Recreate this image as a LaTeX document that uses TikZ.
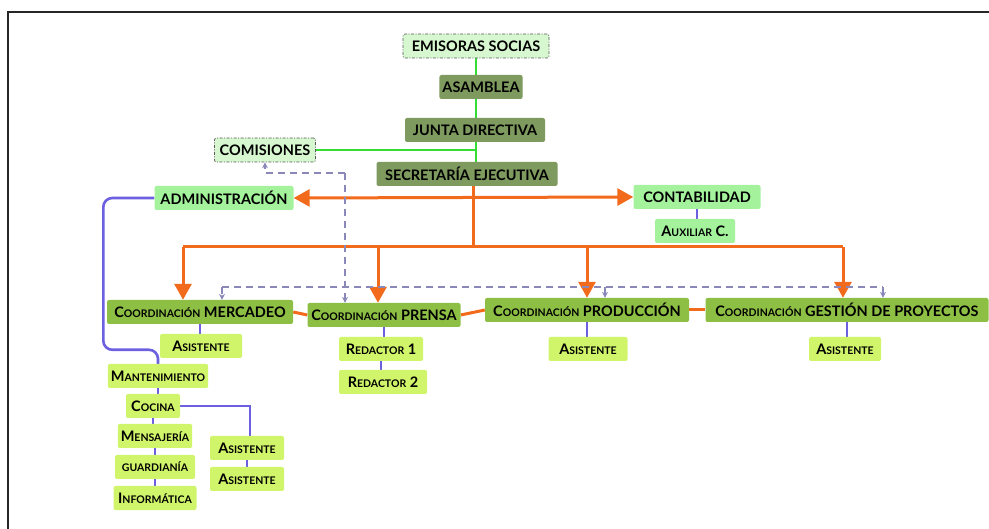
\documentclass[tikz,border=0pt]{standalone}
\usepackage{fontspec}
\setmainfont{Lato}
\usetikzlibrary{arrows.meta, positioning, backgrounds}
\definecolor{sociafill}{HTML}{D6F7CF}
\definecolor{boardfill}{HTML}{7E9A5F}
\definecolor{areafill}{HTML}{A4F39C}
\definecolor{coordfill}{HTML}{8DBF45}
\definecolor{stafffill}{HTML}{D0F56A}
\definecolor{linegreen}{HTML}{33DD33}
\definecolor{lineorange}{HTML}{F26A1B}
\definecolor{lineblue}{HTML}{6C5FE0}
\definecolor{linedash}{HTML}{8A88B8}

% small caps made by hand: first letter, then the rest smaller
\newcommand\smcap[2]{#1{\fontsize{10.5}{12}\selectfont #2}}

\begin{document}
\begin{tikzpicture}[x=1pt, y=-1pt,
    box/.style={rectangle, rounded corners=2pt, fill=#1, inner xsep=3pt,
                inner ysep=0pt, minimum height=24pt, text=black,
                font=\fontsize{14.5}{16}\selectfont\bfseries},
    socia/.style={box=sociafill, draw=black!65, line width=0.7pt,
                  dash pattern=on 3pt off 1.5pt on 1pt off 1.5pt},
    orangeline/.style={draw=lineorange, line width=3pt},
    orangearrow/.style={orangeline, -{Triangle[length=16pt, width=17pt]}},
    blueline/.style={draw=lineblue, line width=2.6pt},
    dashline/.style={draw=linedash, line width=1.2pt, dash pattern=on 7pt off 5pt},
]
\useasboundingbox (0,0) rectangle (989,529);
\draw[line width=2pt, black!85] (8,529) -- (8,12) -- (989,12);

% top of the tree
\node[socia, minimum width=146pt]        (emisoras)   at (476,46)  {EMISORAS SOCIAS};
\node[box=boardfill, minimum width=83pt] (asamblea)   at (481,87)  {ASAMBLEA};
\node[box=boardfill, minimum width=140pt](junta)      at (475,130) {JUNTA DIRECTIVA};
\node[socia, minimum width=101pt]        (comisiones) at (265,150) {COMISIONES};
\node[box=boardfill, minimum width=181pt](secretaria) at (467,174) {SECRETARÍA EJECUTIVA};

\node[box=areafill, minimum width=139pt] (admin)      at (224,198) {ADMINISTRACIÓN};
\node[box=areafill, minimum width=127pt] (conta)      at (697,197) {CONTABILIDAD};
\node[box=areafill, minimum width=80pt]  (auxiliar)   at (695,231) {\smcap{A}{UXILIAR} C.};

% coordinations
\node[box=coordfill, minimum width=186pt](mercadeo)   at (200,312) {\smcap{C}{OORDINACIÓN} MERCADEO};
\node[box=coordfill, minimum width=153pt](prensa)     at (384,315) {\smcap{C}{OORDINACIÓN} PRENSA};
\node[box=coordfill, minimum width=204pt](produccion) at (587,310) {\smcap{C}{OORDINACIÓN} PRODUCCIÓN};
\node[box=coordfill, minimum width=283pt](gestion)    at (847,310) {\smcap{C}{OORDINACIÓN} GESTIÓN DE PROYECTOS};

\node[box=stafffill, minimum width=82pt] (asismerc)   at (201,346) {\smcap{A}{SISTENTE}};
\node[box=stafffill, minimum width=84pt] (redactor1)  at (381,349) {\smcap{R}{EDACTOR} 1};
\node[box=stafffill, minimum width=88pt] (redactor2)  at (383,382) {\smcap{R}{EDACTOR} 2};
\node[box=stafffill, minimum width=79pt] (asisprod)   at (588,349) {\smcap{A}{SISTENTE}};
\node[box=stafffill, minimum width=72pt] (asisgest)   at (845,349) {\smcap{A}{SISTENTE}};

% services under administration
\node[box=stafffill, minimum width=100pt](manten)     at (158,376) {\smcap{M}{ANTENIMIENTO}};
\node[box=stafffill, minimum width=54pt] (cocina)     at (153,406) {\smcap{C}{OCINA}};
\node[box=stafffill, minimum width=74pt] (mensajeria) at (155,436) {\smcap{M}{ENSAJERÍA}};
\node[box=stafffill, minimum width=80pt] (guardiania) at (155,467) {\smcap{}{GUARDIANÍA}};
\node[box=stafffill, minimum width=83pt] (informatica)at (155,498) {\smcap{I}{NFORMÁTICA}};
\node[box=stafffill, minimum width=74pt] (asiscoc1)   at (247,448) {\smcap{A}{SISTENTE}};
\node[box=stafffill, minimum width=74pt] (asiscoc2)   at (247,479) {\smcap{A}{SISTENTE}};

\coordinate (hub)     at (473,247);
\coordinate (dashtop) at (345,173);
\coordinate (dashbus) at (345,287);

\begin{scope}[on background layer]
% green line of the governing bodies
\draw[draw=linegreen, line width=2.5pt] (emisoras.south) -- (emisoras.south |- secretaria.north);
\draw[draw=linegreen, line width=2.5pt] (comisiones.east) -- (comisiones.east -| emisoras.south);

% orange lines
\draw[orangeline] (hub |- secretaria.south) -- (hub);
\draw[orangeline, {Triangle[length=16pt, width=17pt]}-{Triangle[length=16pt, width=17pt]}]
    (admin.east) -- (conta.west);
\draw[orangeline] ([xshift=-17pt]mercadeo.north |- hub) -- ([xshift=-4pt]gestion.north |- hub);
\draw[orangearrow] ([xshift=-17pt]mercadeo.north |- hub) -- ([xshift=-17pt]mercadeo.north);
\draw[orangearrow] ([xshift=-6pt]prensa.north |- hub) -- ([xshift=-6pt]prensa.north);
\draw[orangearrow] (produccion.north |- hub) -- (produccion.north);
\draw[orangearrow] ([xshift=-4pt]gestion.north |- hub) -- ([xshift=-4pt]gestion.north);
\draw[orangeline] (mercadeo.east) -- (prensa.west);
\draw[orangeline] (prensa.east) -- (produccion.west);
\draw[orangeline] (produccion.east) -- (gestion.west);

% blue lines
\draw[blueline, rounded corners=9pt] (admin.west) -- ++(-51,0)
    |- ([yshift=14pt]manten.north) -- (manten.north);
\draw[blueline] (manten.south) -- (manten.south |- cocina.north);
\draw[blueline] (cocina.south) -- (cocina.south |- mensajeria.north);
\draw[blueline] (mensajeria.south) -- (mensajeria.south |- guardiania.north);
\draw[blueline] (guardiania.south) -- (guardiania.south |- informatica.north);
\draw[blueline] (cocina.east) -| ([xshift=3pt]asiscoc1.north);
\draw[blueline] (asiscoc1.south) -- (asiscoc2.north);
\draw[blueline] (conta.south) -- (conta.south |- auxiliar.north);
\draw[blueline] (mercadeo.south) -- (mercadeo.south |- asismerc.north);
\draw[blueline] (prensa.south) -- (prensa.south |- redactor1.north);
\draw[blueline] (redactor1.south) -- (redactor1.south |- redactor2.north);
\draw[blueline] (produccion.south) -- (produccion.south |- asisprod.north);
\draw[blueline] (gestion.south) -- (gestion.south |- asisgest.north);

% dashed links
\draw[dashline, -{Stealth[length=6pt, width=6pt]}] (dashtop) -| (comisiones.south);
\draw[dashline, -{Stealth[length=6pt, width=6pt]}] (dashtop) -- (dashtop |- prensa.north);
\draw[dashline] ([xshift=22pt]mercadeo.north |- dashbus) -- ([xshift=36pt]gestion.north |- dashbus);
\draw[dashline, -{Stealth[length=6pt, width=6pt]}] ([xshift=22pt]mercadeo.north |- dashbus) -- ([xshift=22pt]mercadeo.north);
\draw[dashline, -{Stealth[length=6pt, width=6pt]}] ([xshift=18pt]produccion.north |- dashbus) -- ([xshift=18pt]produccion.north);
\draw[dashline, -{Stealth[length=6pt, width=6pt]}] ([xshift=36pt]gestion.north |- dashbus) -- ([xshift=36pt]gestion.north);
\end{scope}
\end{tikzpicture}
\end{document}
